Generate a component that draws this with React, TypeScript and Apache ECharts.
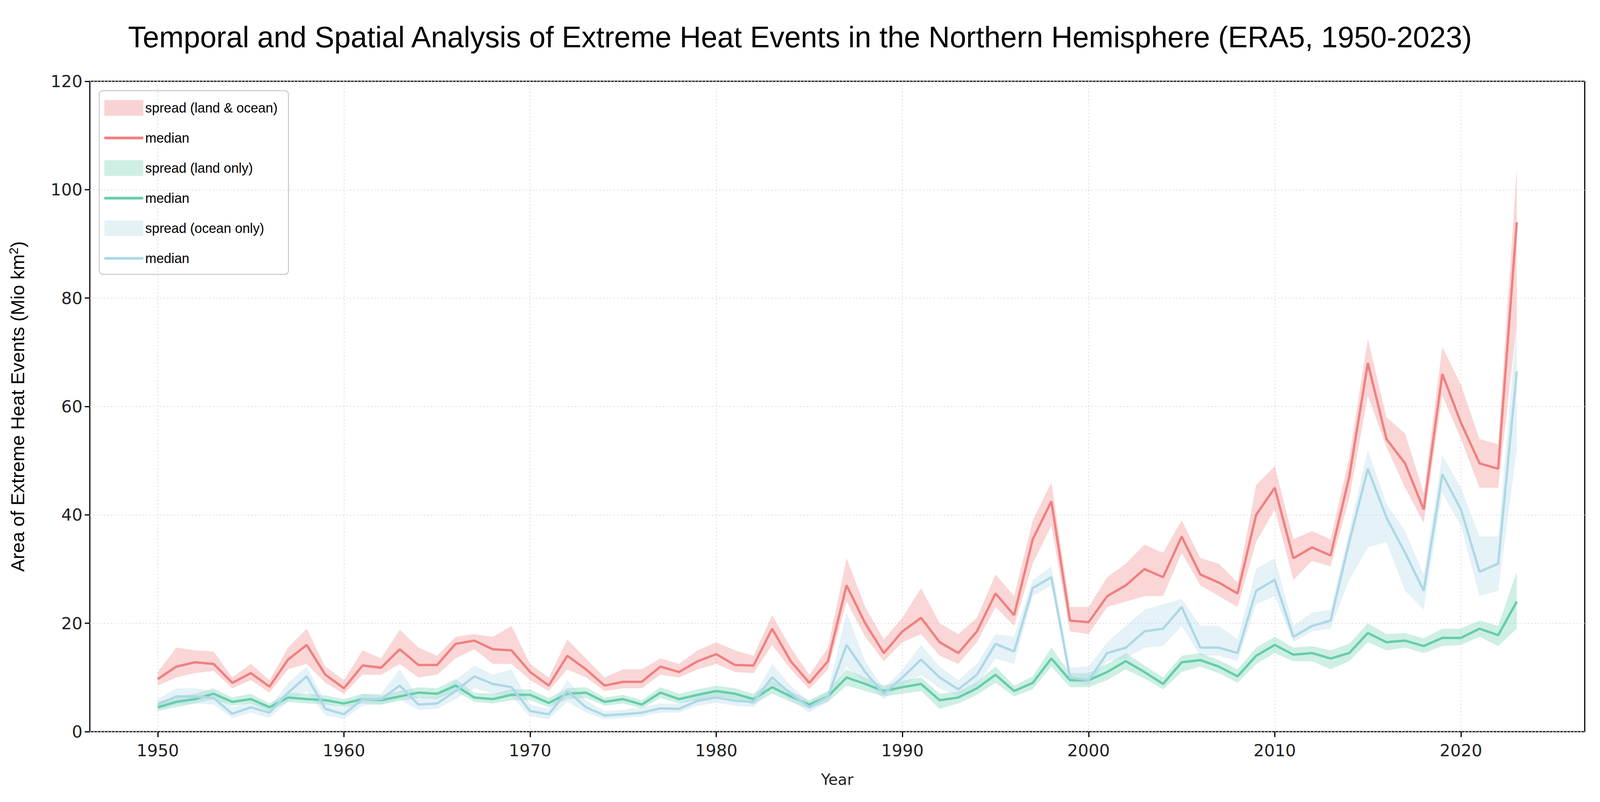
import { useEffect, useRef } from 'react';
import * as echarts from 'echarts';

const years = Array.from({ length: 74 }, (_, i) => 1950 + i);

// land & ocean
const allMedian = [9.7, 12, 12.8, 12.5, 9, 10.8, 8.3, 13.3, 16, 10.5, 8, 12.2, 11.8, 15.2, 12.3, 12.3, 16.2, 16.8, 15.2, 15, 11, 8.5, 14, 11.5, 8.5, 9.2, 9.2, 12, 11, 13, 14.3, 12.3, 12.2, 19, 13, 9, 13, 27, 20, 14.5, 18.5, 21, 16.5, 14.5, 18.5, 25.5, 21.5, 35.5, 42.5, 20.5, 20.2, 25, 27, 30, 28.5, 36, 29, 27.5, 25.5, 40, 45, 32, 34, 32.5, 47, 68, 54, 49.5, 41, 66, 57, 49.5, 48.5, 94];
const allLow = [8.5, 10, 10.8, 11.2, 8, 9.5, 7.2, 11.5, 12.5, 9, 7, 10.5, 10.5, 12.5, 10, 10.5, 13.5, 15.2, 12.5, 12.5, 9.5, 7.5, 11.5, 10, 7.5, 8, 8, 10.5, 10, 11.5, 12.5, 11, 10.8, 16, 11.5, 7.8, 11.5, 24, 17.5, 13, 16.5, 18, 14, 12.5, 16.5, 23, 19.5, 31, 38, 18.5, 18, 23, 24, 25, 25, 33, 27, 25, 23, 35, 41, 28, 31.5, 30.5, 43, 62, 52.5, 45, 38.5, 62, 54, 45, 45, 75];
const allHigh = [11, 15.5, 15, 14.8, 10, 12.5, 9.5, 15.5, 19, 12, 9.5, 15, 13.5, 18.8, 15.5, 14, 17.5, 18, 17.5, 19.5, 12.5, 10, 17, 13.5, 10, 11.5, 11.5, 13.5, 12.5, 15, 16.5, 15, 14, 21.5, 15.5, 10.5, 15.5, 32, 23, 17, 21, 26.5, 20, 18, 21, 29, 25, 39, 46, 23, 23, 28.5, 31, 34.5, 33, 39, 32, 31, 27.5, 45.5, 49, 35.5, 37, 35.5, 50.5, 72.5, 58, 55, 44, 71, 64, 54, 53, 104];

// land only
const landMedian = [4.5, 5.5, 6, 7, 5.5, 6, 4.5, 6.3, 6, 5.8, 5.2, 6, 5.8, 6.5, 7.2, 7, 8.5, 6.3, 6, 6.8, 6.8, 5.3, 7, 7.2, 5.5, 6, 5, 7.2, 6, 6.8, 7.5, 7, 6, 8.2, 6.5, 5, 6.5, 10, 8.8, 7.5, 8.2, 8.8, 5.8, 6.3, 8, 10.5, 7.5, 9, 13.5, 9.5, 9.5, 11, 13, 11, 8.8, 12.8, 13.2, 12, 10.2, 14, 16, 14.2, 14.5, 13.5, 14.5, 18.2, 16.5, 16.8, 15.8, 17.3, 17.3, 19, 17.8, 24];
const landLow = [3.8, 4.5, 5.2, 6, 4.8, 5.2, 3.8, 5.5, 5.2, 5, 4.5, 5.2, 5, 5.7, 6.2, 6, 7.5, 5.5, 5.2, 5.8, 5.8, 4.5, 6, 6.2, 4.8, 5.2, 4.3, 6.2, 5.2, 5.8, 6.5, 6, 5, 7, 5.5, 4.2, 5.5, 8.5, 7.5, 6.5, 7, 7.5, 4.2, 5.2, 6.8, 9, 6.5, 7.8, 12, 8.2, 8.2, 9.5, 11.5, 9.8, 7.8, 11, 12, 10.8, 9, 12.5, 14.5, 13, 13, 11.5, 13, 16.5, 15, 15.5, 14.5, 15.8, 16, 17.5, 15.8, 19];
const landHigh = [5.5, 6.5, 7, 8, 6.3, 7, 5.2, 7.2, 7, 6.7, 6, 7, 6.7, 7.5, 8.2, 8, 9.7, 7.2, 7, 7.8, 7.8, 6.2, 8, 8.2, 6.3, 6.8, 5.8, 8.2, 7, 7.8, 8.5, 8, 7, 9.4, 7.5, 5.8, 7.5, 11.5, 10, 8.5, 9.4, 10, 7, 7.4, 9.2, 12, 8.5, 10.2, 15.5, 10.8, 10.8, 12.5, 14.5, 12.2, 10, 14, 14.5, 13.2, 11.5, 15.5, 17.5, 15.5, 15.8, 15, 16.2, 20, 18, 18.2, 17.2, 19, 19, 20.5, 19.5, 29.5];

// ocean only
const oceanMedian = [5, 6.5, 6.5, 6.2, 3.3, 4.5, 3.5, 7.2, 10.2, 4.2, 3.2, 6, 6, 8.5, 5, 5.2, 7.5, 10.2, 8.8, 8.2, 3.8, 3.2, 7.5, 4.5, 3, 3.2, 3.5, 4.3, 4.2, 5.7, 6.3, 5.7, 5.5, 10, 7, 4.5, 6.5, 16, 11, 7, 10, 13.3, 10, 7.8, 10.5, 16.2, 14.8, 26.5, 28.5, 10, 9.5, 14.5, 15.5, 18.5, 19, 23, 15.5, 15.5, 14.5, 26, 28, 17.5, 19.5, 20.5, 35, 48.5, 39.5, 33, 26, 47.5, 41, 29.5, 31, 66.5];
const oceanLow = [4, 5, 5.2, 5, 2.5, 3.5, 2.5, 5.5, 7.5, 3, 2.3, 4.8, 5, 6, 4, 4.2, 6, 8, 7, 6.5, 2.8, 2.3, 5.5, 3.5, 2.3, 2.5, 2.8, 3.5, 3.5, 4.8, 5.3, 4.8, 4.5, 8, 5.8, 3.5, 5.5, 12, 9, 6, 8.5, 10.5, 8, 6.5, 8.5, 13.5, 12.5, 25, 27, 9.2, 8.5, 13, 13.5, 15.5, 15.8, 19.5, 14, 14, 13, 23.5, 25, 16.5, 18.5, 19, 28, 34, 35, 26, 22.5, 44, 38, 25, 26, 52];
const oceanHigh = [6, 8, 8, 7.5, 4.5, 5.5, 4.5, 9, 12, 5.5, 4.2, 7, 7, 11.5, 6.2, 6.5, 9.5, 12.2, 10.5, 11.5, 5, 4.2, 9.5, 5.8, 3.8, 4, 4.5, 5.2, 5.2, 6.7, 7.3, 6.7, 6.5, 12.5, 8.5, 5.5, 7.5, 22, 13, 8, 11.5, 16, 12, 9.5, 12.5, 18, 17.5, 28, 30.5, 11.8, 12, 16.5, 19.5, 22.5, 23.5, 24.5, 19.5, 19.5, 17, 30, 32, 19.5, 22, 22.5, 37, 52, 42, 37, 29, 51, 45, 36, 36, 75];

const xTicks = [1950, 1960, 1970, 1980, 1990, 2000, 2010, 2020];

const RED = '#F08080';
const GREEN = '#66CDAA';
const BLUE = '#ADD8E6';

const pairs = (vals: number[]) => years.map((y, i) => [y, vals[i]]);

// filled band between lo and hi, drawn as one polygon
function band(name: string, lo: number[], hi: number[], color: string, patch: string) {
  return {
    name,
    type: 'custom',
    silent: true,
    z: 1,
    itemStyle: { color: patch },
    encode: { x: 0, y: [1, 2] },
    data: years.map((y, i) => [y, lo[i], hi[i]]),
    renderItem: (params: any, api: any) => {
      if (params.dataIndex !== 0) return null;
      const top = years.map((y, i) => api.coord([y, hi[i]]));
      const bottom = years.map((y, i) => api.coord([y, lo[i]])).reverse();
      return {
        type: 'polygon',
        shape: { points: top.concat(bottom) },
        style: { fill: color, opacity: 0.32 },
      };
    },
  };
}

const lineIcon = 'path://M0,0h100v7h-100z';

export default function App() {
  const chartRef = useRef<HTMLDivElement>(null);

  useEffect(() => {
    document.body.style.margin = '0';
    document.body.style.overflow = 'hidden';
    const el = chartRef.current;
    if (!el) return;
    const chart = echarts.init(el, undefined, { renderer: 'svg' });

    // layout is given in 4400x2052 reference pixels and scaled to the viewport
    const sx = el.clientWidth / 4400;
    const sy = el.clientHeight / 2052;
    const X = (v: number) => v * sx;
    const Y = (v: number) => v * sy;

    const median = (name: string, vals: number[], color: string) => ({
      name,
      type: 'line',
      data: pairs(vals),
      symbol: 'none',
      z: 5,
      itemStyle: { color },
      lineStyle: { color, width: X(6.5) },
    });

    const option: any = {
      animation: false,
      backgroundColor: '#fff',
      title: {
        text: 'Temporal and Spatial Analysis of Extreme Heat Events in the Northern Hemisphere (ERA5, 1950-2023)',
        left: 'center',
        top: Y(52),
        textStyle: { fontFamily: 'Liberation Sans', fontSize: X(81), fontWeight: 'normal', color: '#000' },
      },
      legend: {
        orient: 'vertical',
        left: X(273),
        top: Y(232),
        itemWidth: X(107),
        itemHeight: Y(40),
        itemGap: Y(40),
        padding: [Y(24), X(30), Y(24), X(14)],
        borderColor: '#d0d0d0',
        borderWidth: 3,
        borderRadius: 10,
        textStyle: { fontFamily: 'Liberation Sans', fontSize: X(37), color: '#000' },
        data: [
          { name: 'spread (land & ocean)', icon: 'rect', itemStyle: { color: '#F9D3D3' } },
          { name: 'median', icon: lineIcon, itemStyle: { color: RED } },
          { name: 'spread (land only)', icon: 'rect', itemStyle: { color: '#CFEFE4' } },
          { name: 'median ', icon: lineIcon, itemStyle: { color: GREEN } },
          { name: 'spread (ocean only)', icon: 'rect', itemStyle: { color: '#E4F2F6' } },
          { name: 'median  ', icon: lineIcon, itemStyle: { color: BLUE } },
        ],
      },
      grid: {
        left: X(247),
        right: X(42),
        top: Y(208),
        bottom: Y(180),
        show: true,
        borderColor: '#000',
        borderWidth: 3,
      },
      xAxis: {
        type: 'value',
        min: 1946.35,
        max: 2026.65,
        name: 'Year',
        nameLocation: 'middle',
        nameGap: Y(103),
        nameTextStyle: { fontFamily: 'DejaVu Sans', fontSize: X(42), color: '#222' },
        axisLine: { show: false },
        axisTick: { show: true, customValues: xTicks, length: Y(14), lineStyle: { color: '#000', width: 3 } },
        axisLabel: {
          customValues: xTicks,
          formatter: (v: number) => String(v),
          fontFamily: 'DejaVu Sans',
          fontSize: X(46),
          color: '#222',
          margin: Y(26),
        },
        splitLine: { show: true, lineStyle: { color: '#d8d8d8', type: [3, 6], width: 2 } },
      },
      yAxis: {
        type: 'value',
        min: 0,
        max: 120,
        interval: 20,
        name: 'Area of Extreme Heat Events (Mio km{sup|2})',
        nameLocation: 'middle',
        nameGap: X(170),
        nameTextStyle: {
          fontFamily: 'Liberation Sans',
          fontSize: X(52),
          color: '#000',
          rich: { sup: { fontFamily: 'Liberation Sans', fontSize: X(34), color: '#000', verticalAlign: 'top', padding: [0, 0, X(22), 0] } },
        },
        axisLine: { show: false },
        axisTick: { show: true, length: X(14), lineStyle: { color: '#000', width: 3 } },
        axisLabel: { fontFamily: 'DejaVu Sans', fontSize: X(46), color: '#222', margin: X(20) },
        splitLine: { show: true, lineStyle: { color: '#d8d8d8', type: [3, 6], width: 2 } },
      },
      series: [
        band('spread (land & ocean)', allLow, allHigh, RED, '#F9D3D3'),
        band('spread (land only)', landLow, landHigh, GREEN, '#CFEFE4'),
        band('spread (ocean only)', oceanLow, oceanHigh, BLUE, '#E4F2F6'),
        median('median', allMedian, RED),
        median('median ', landMedian, GREEN),
        median('median  ', oceanMedian, BLUE),
      ],
    };

    chart.setOption(option);
    return () => chart.dispose();
  }, []);

  return <div ref={chartRef} style={{ width: '100vw', height: '100vh' }} />;
}
